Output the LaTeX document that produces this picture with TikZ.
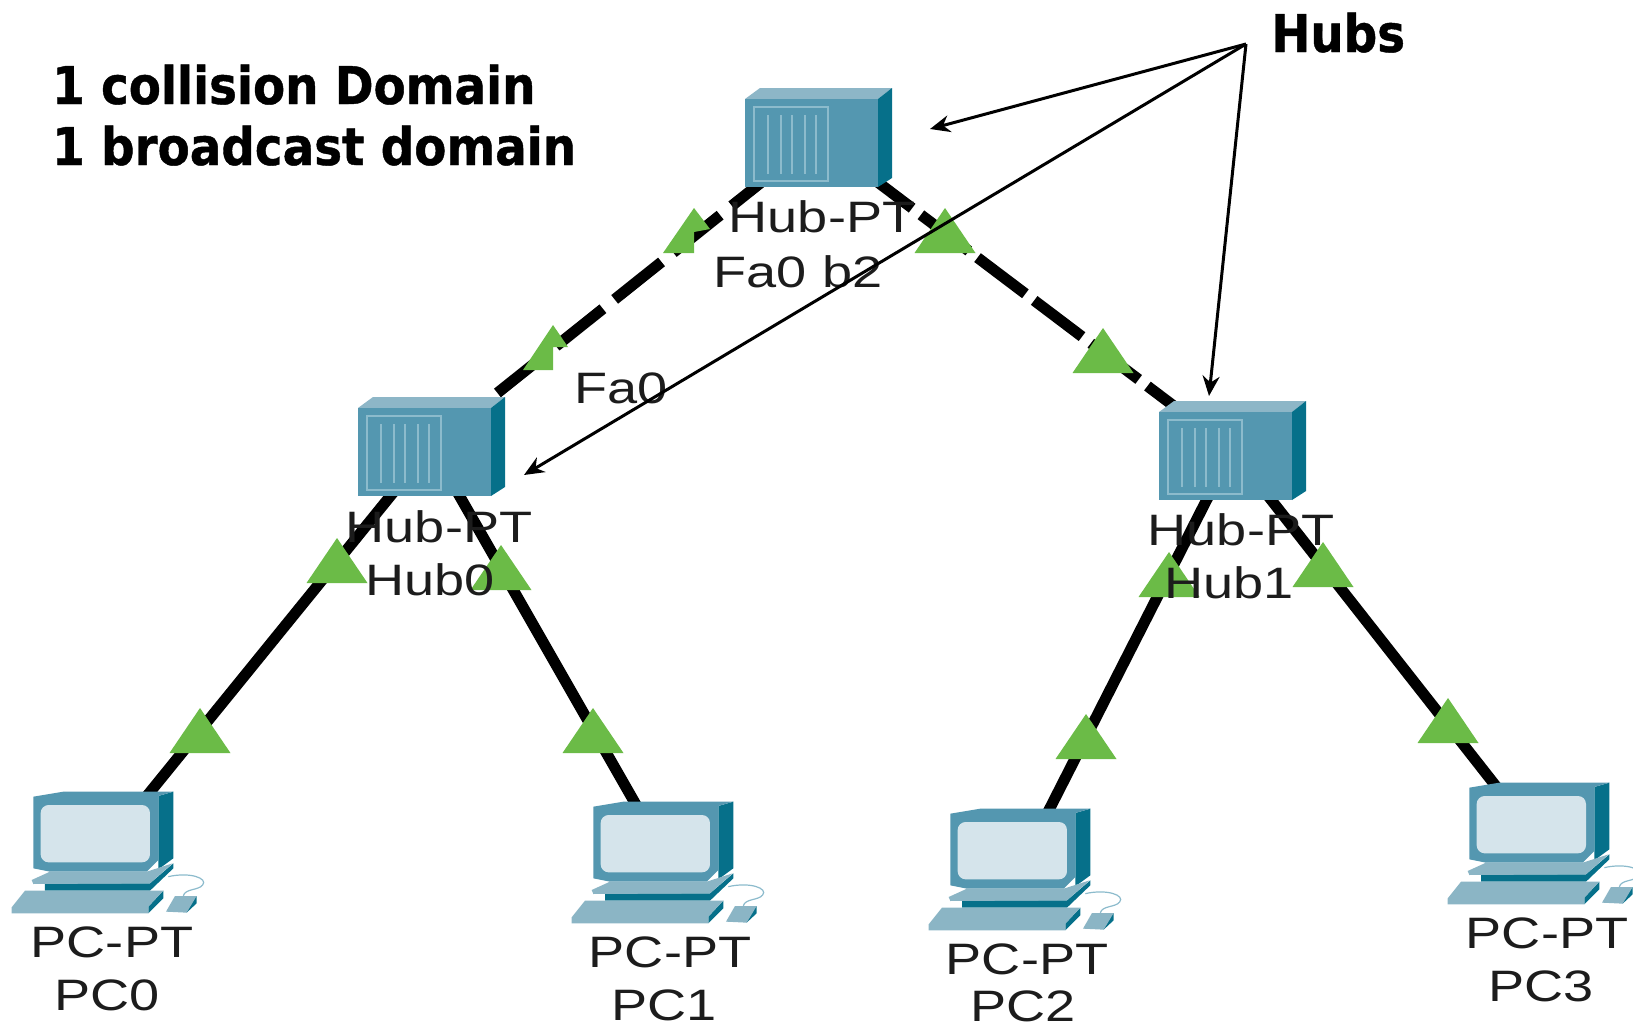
\documentclass[tikz,border=0pt]{standalone}
\usepackage{fontspec}
\usetikzlibrary{arrows.meta}
\newfontfamily\lblfont[FakeStretch=1.23]{Liberation Sans}
\newfontfamily\headfont[FakeStretch=0.9,BoldFeatures={FakeBold=0.8}]{DejaVu Sans}
\definecolor{hubfront}{HTML}{5497B0}
\definecolor{hubtop}{HTML}{8DB6C7}
\definecolor{hubside}{HTML}{06708A}
\definecolor{hubline}{HTML}{8CBBCC}
\definecolor{screen}{HTML}{D5E4EB}
\definecolor{keys}{HTML}{8BB5C5}
\definecolor{sig}{HTML}{6BBB47}
\definecolor{ink}{HTML}{1C1C1C}
\tikzset{
  anchorbox/.style={inner sep=0,minimum width=60,minimum height=60},
  lbl/.style={anchor=base,inner sep=0,text=ink,font=\lblfont\fontsize{44}{50}\selectfont},
  head/.style={anchor=base west,inner sep=0,text=black,font=\headfont\bfseries\fontsize{52}{60}\selectfont},
  wire/.style={line width=11,black},
  dashwire/.style={wire,dash pattern=on 60 off #1},
  callout/.style={line width=3,black,-{Stealth[length=20,width=17]}},
  tri/.pic={\fill[sig] (0,0)--(30.5,45)--(-30.5,45)--cycle;},
  hubicon/.pic={
    \fill[hubtop] (-73,-38)--(-58,-49)--(74,-49)--(60,-38)--cycle;
    \fill[hubside] (60,-38)--(74,-49)--(74,41)--(60,50)--cycle;
    \fill[hubfront] (-73,-38) rectangle (60,50);
    \draw[hubline,line width=1.6] (-64,-30) rectangle (10,44);
    \foreach \q in {-50,-37,-26,-13,-2} \draw[hubline,line width=2.4] (\q,-22)--(\q,37);
  },
  pcicon/.pic={
    \begin{scope}[x=0.3333pt,y=-0.3333pt]
    \draw[hubline,line width=1.2] (505,320) .. controls (570,305) and (625,325) .. (608,345) .. controls (595,362) and (555,355) .. (550,378);
    \fill[hubside] (475,78)--(520,65)--(520,265)--(475,298)--cycle;
    \fill[hubfront] (100,80)--(190,65)--(520,65)--(475,78)--(475,270)--(440,305)--(150,305)--(100,295)--cycle;
    \fill[screen,rounded corners=8] (122,105) rectangle (450,277);
    \fill[hubside] (135,340)--(450,340)--(520,280)--(520,295)--(450,362)--(135,362)--cycle;
    \fill[keys] (95,330)--(150,305)--(440,305)--(518,280)--(450,340)--(100,342)--cycle;
    \fill[hubside] (445,430)--(490,385)--(490,362)--(445,410)--cycle;
    \fill[keys] (35,412)--(75,362)--(490,362)--(445,410)--(445,430)--(35,430)--cycle;
    \fill[hubside] (560,428)--(590,400)--(590,378)--(555,410)--cycle;
    \fill[keys] (498,425)--(525,378)--(590,378)--(560,428)--cycle;
    \end{scope}
  }
}
\begin{document}
\begin{tikzpicture}[x=1pt,y=-1pt]
\useasboundingbox (0,0) rectangle (1633,1029);
% anchors of the devices
\node[anchorbox] (hub2) at (818,137) {};
\node[anchorbox] (hub0) at (431,446) {};
\node[anchorbox] (hub1) at (1232,450) {};
\node[anchorbox] (pc0) at (103,850) {};
\node[anchorbox] (pc1) at (663,852) {};
\node[anchorbox] (pc2) at (1020,867) {};
\node[anchorbox] (pc3) at (1539,841) {};
% links
\draw[dashwire=15,dash phase=65] (hub0.center)--(hub2.center);
\draw[dashwire=11,dash phase=13] (hub2.center)--(hub1.center);
\draw[wire] (hub0.center)--(pc0.center);
\draw[wire] (hub0.center)--(pc1.center);
\draw[wire] (hub1.center)--(pc2.center);
\draw[wire] (hub1.center)--(pc3.center);
% device icons
\pic at (hub2.center) {hubicon};
\pic at (hub0.center) {hubicon};
\pic at (hub1.center) {hubicon};
\pic at (0,770) {pcicon};
\pic at (560,780) {pcicon};
\pic at (917,787) {pcicon};
\pic at (1436,761) {pcicon};
% link lights
\fill[sig] (694,208)--(710,229)--(694,232)--(694,253)--(663,253)--cycle;
\fill[sig] (553,325)--(568,347)--(553,347)--(553,370)--(523,370)--cycle;
\pic at (945,208) {tri};
\pic at (1103,328) {tri};
\pic at (337,538) {tri};
\pic at (501,545) {tri};
\pic at (1169,552) {tri};
\pic at (1323,542) {tri};
\pic at (200,708) {tri};
\pic at (593,708) {tri};
\pic at (1086,714) {tri};
\pic at (1448,698) {tri};
% labels
\node[lbl] (t2a) at (822,232) {Hub-PT};
\node[lbl] (t2b) at (798,287) {Fa0 b2};
\node[lbl] (tfa) at (621,403) {Fa0};
\node[lbl] (t0a) at (439,542) {Hub-PT};
\node[lbl] (t0b) at (430,595) {Hub0};
\node[lbl] (t1a) at (1241,545) {Hub-PT};
\node[lbl] (t1b) at (1229,598) {Hub1};
\node[lbl] (p0a) at (112,957) {PC-PT};
\node[lbl] (p0b) at (107,1010) {PC0};
\node[lbl] (p1a) at (670,967) {PC-PT};
\node[lbl] (p1b) at (664,1020) {PC1};
\node[lbl] (p2a) at (1027,974) {PC-PT};
\node[lbl] (p2b) at (1023,1021) {PC2};
\node[lbl] (p3a) at (1547,948) {PC-PT};
\node[lbl] (p3b) at (1541,1001) {PC3};
\node[head] (title1) at (52,104) {1 collision Domain};
\node[head] (title2) at (52,165) {1 broadcast domain};
\node[head] (hubs) at (1271,52) {Hubs};
% callouts
\coordinate (apex) at (1246,44);
\coordinate (toA) at (930,129);
\coordinate (toB) at (524,475);
\coordinate (toC) at (1209,396);
\draw[callout] (apex)--(toA);
\draw[callout] (apex)--(toB);
\draw[callout] (apex)--(toC);
\end{tikzpicture}
\end{document}
